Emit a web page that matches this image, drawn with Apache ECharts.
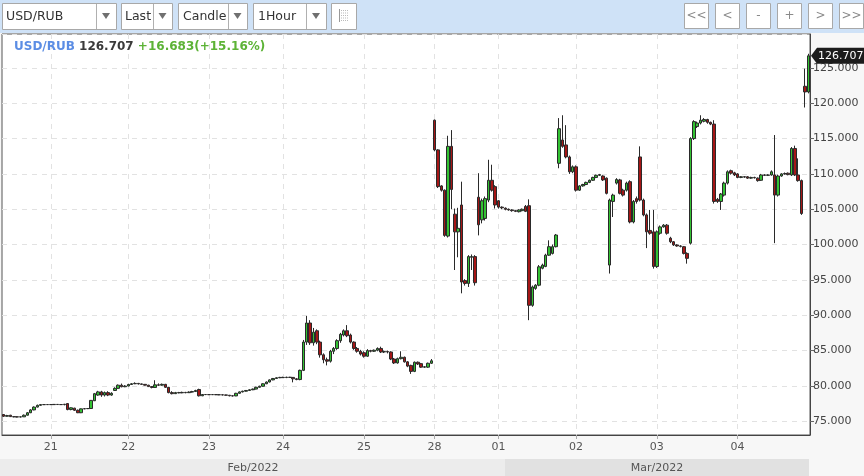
<!DOCTYPE html>
<html><head><meta charset="utf-8">
<script src="https://cdn.jsdelivr.net/npm/echarts@6/dist/echarts.min.js"></script>
<style>html,body{margin:0;padding:0;background:#f7f7f7}#c{width:864px;height:476px}</style>
</head><body><div id="c"></div>
<script>
// ---------- data ----------
const symbol = 'USD/RUB';
const changeText = '+16.683(+15.16%)';
const days = ['2022-02-18','2022-02-21','2022-02-22','2022-02-23','2022-02-24','2022-02-25','2022-02-28','2022-03-01','2022-03-02','2022-03-03','2022-03-04'];
const dayStartHour = [10,1,0,2,0,3,5,1,0,0,0];
const yTicks = [75,80,85,90,95,100,105,110,115,120,125];
const months = ['Feb/2022','Mar/2022'];
// [open, close, low, high]
const feb18 = [
[75.95,75.70,75.60,76.00],[75.70,75.80,75.65,75.90],[75.85,75.65,75.60,75.90],[75.65,75.62,75.55,75.70],
[75.62,75.60,75.55,75.68],[75.60,75.62,75.55,75.66],[75.62,75.85,75.60,75.95],[75.85,76.20,75.80,76.30],
[76.20,76.60,76.15,76.70],[76.60,77.00,76.55,77.10],[77.00,77.25,76.95,77.35],[77.25,77.35,77.20,77.42],
[77.35,77.35,77.30,77.40],[77.35,77.36,77.30,77.40]];
const feb21 = [
[77.36,77.35,77.30,77.40],[77.35,77.38,77.32,77.42],[77.38,77.36,77.32,77.42],[77.36,77.35,77.30,77.40],
[77.35,77.40,77.25,77.45],[77.50,76.65,76.55,77.55],[76.65,76.90,76.55,76.95],[76.85,76.55,76.45,76.90],
[76.55,76.20,76.15,76.65],[76.20,76.75,76.15,76.80],[76.75,76.78,76.70,76.85],[76.78,76.80,76.72,76.86],
[76.80,77.95,76.75,78.00],[77.90,78.90,77.85,79.00],[78.70,79.15,78.60,79.30],[79.15,78.70,78.45,79.30],
[78.70,79.05,78.50,79.20],[79.05,78.70,78.55,79.25],[78.70,78.95,78.60,79.10],[79.35,79.65,79.30,79.80],
[79.65,80.10,79.60,80.20],[80.10,79.88,79.80,80.33],[79.88,79.98,79.82,80.10]];
const feb22 = [
[79.98,80.20,79.95,80.30],[80.20,80.30,80.15,80.40],[80.30,80.35,80.25,80.50],[80.35,80.28,80.20,80.42],
[80.28,80.22,80.15,80.32],[80.22,80.10,80.05,80.26],[80.10,79.90,79.85,80.15],[79.90,79.78,79.65,79.95],
[79.78,80.15,79.70,80.80],[80.15,80.10,79.98,80.35],[80.10,80.22,80.02,80.33],[80.22,79.80,79.72,80.28],
[79.80,79.05,78.95,79.85],[79.05,78.90,78.80,79.25],[78.90,79.05,78.85,79.15],[79.05,79.02,78.95,79.15],
[79.02,79.08,78.96,79.18],[79.08,79.04,78.96,79.15],[79.04,79.12,79.00,79.22],[79.12,79.20,79.05,79.30],
[79.20,79.35,79.15,79.45],[79.49,78.60,78.50,79.60],[78.60,78.78,78.55,78.85],[78.78,78.77,78.70,78.84]];
const feb23 = [
[78.77,78.76,78.70,78.82],[78.76,78.77,78.71,78.82],[78.77,78.75,78.70,78.80],[78.75,78.74,78.69,78.79],
[78.74,78.72,78.66,78.78],[78.72,78.68,78.62,78.75],[78.68,78.60,78.52,78.70],[78.60,78.58,78.50,78.66],
[78.58,78.95,78.55,79.02],[78.95,79.15,78.90,79.22],[79.15,79.25,79.08,79.32],[79.25,79.35,79.20,79.42],
[79.35,79.45,79.30,79.52],[79.45,79.55,79.40,79.62],[79.55,79.80,79.50,79.88],[79.80,79.95,79.75,80.02],
[79.95,80.30,79.90,80.38],[80.30,80.55,80.25,80.62],[80.55,80.85,80.50,80.92],[80.85,81.05,80.80,81.12],
[81.05,81.15,81.00,81.22],[81.15,81.20,81.10,81.28]];
const feb24 = [
[81.20,81.18,81.10,81.30],[81.18,81.22,81.10,81.30],[81.22,81.20,81.12,81.28],[81.20,81.00,80.50,81.25],
[81.00,80.90,80.80,81.10],[80.90,82.20,80.80,82.30],[82.20,86.20,82.10,86.50],[86.20,88.90,85.80,89.90],
[88.90,86.10,85.80,89.30],[86.10,87.60,85.70,88.20],[87.80,86.20,85.90,88.00],[86.20,84.40,84.00,86.40],
[84.40,83.70,83.20,84.60],[83.70,83.50,82.90,84.00],[83.50,84.90,83.30,85.10],[84.90,85.30,84.50,85.50],
[85.30,86.40,85.10,86.60],[86.40,87.30,86.10,87.50],[87.20,87.80,87.00,88.00],[87.80,87.10,86.90,88.60],
[87.20,86.20,86.00,87.40],[86.20,85.30,85.10,86.30],[85.30,84.90,84.70,85.50],[84.90,84.50,84.30,85.10]];
const feb25 = [
[84.70,84.20,84.00,84.90],[84.20,85.00,84.10,85.20],[85.00,84.90,84.75,85.10],[84.90,85.05,84.80,85.15],
[85.05,85.30,84.90,85.45],[85.30,84.80,84.65,85.55],[84.80,84.85,84.65,85.00],[84.85,84.80,84.60,85.00],
[84.80,83.80,83.65,84.90],[83.80,83.25,83.10,83.95],[83.25,83.85,83.15,84.00],[83.85,84.05,83.75,84.90],
[84.05,83.40,83.30,84.15],[83.40,82.80,82.65,83.50],[82.90,82.05,81.70,83.00],[82.05,83.35,81.95,83.45],
[83.35,83.10,82.95,83.45],[83.15,82.65,82.55,83.25],[82.65,82.70,82.55,82.80],[82.65,83.20,82.55,83.30],
[83.20,83.55,83.10,83.80]];
const feb28 = [
[117.60,113.40,113.20,117.70],[113.40,108.20,108.00,113.50],[108.30,107.70,107.50,108.40],[107.70,101.30,101.10,107.80],
[101.20,113.90,101.00,115.40],[113.90,107.80,105.00,116.20],[104.30,101.80,96.40,105.10],[101.80,102.30,98.20,105.20],
[105.60,94.70,93.10,108.90],[94.90,94.50,94.20,95.10],[94.50,98.30,94.00,98.50],[98.20,98.30,96.40,98.60],
[98.30,94.60,94.20,98.50],[106.70,102.80,101.30,110.10],[103.50,106.20,103.00,106.50],[103.70,106.50,103.40,106.80],
[106.30,109.10,106.00,112.00],[109.10,107.70,107.50,111.30],[108.20,105.60,105.10,108.40]];
const mar01 = [
[106.20,105.30,105.10,106.30],[105.30,105.20,105.00,105.40],[105.15,105.00,104.85,105.25],[105.00,104.90,104.80,105.10],
[104.90,104.80,104.65,105.00],[104.80,104.70,104.60,104.85],[104.65,104.90,104.55,105.00],[104.80,105.00,104.70,105.10],
[105.40,104.70,104.60,105.60],[105.50,91.40,89.30,106.40],[91.40,94.00,91.20,94.20],[93.80,94.25,93.60,94.40],
[94.25,96.85,94.10,97.10],[96.65,97.10,96.50,97.30],[96.90,98.50,96.80,98.70],[98.50,99.70,98.40,100.60],
[98.75,99.70,98.60,100.00],[99.70,101.35,99.60,101.50],[111.50,116.40,110.80,117.90],[114.80,113.90,113.70,118.30],
[114.10,112.40,112.20,116.90],[112.40,110.30,110.00,112.60],[110.30,111.00,110.10,111.20]];
const mar02 = [
[111.00,107.70,107.50,111.20],[107.70,108.30,107.60,108.40],[108.30,108.50,108.20,108.60],[108.50,108.80,108.40,108.90],
[108.80,109.10,108.70,109.20],[109.10,109.50,109.00,109.60],[109.50,109.80,109.40,109.90],[109.80,109.90,109.70,110.00],
[109.70,109.15,109.00,109.80],[109.40,107.25,107.10,109.50],[97.10,106.30,95.90,106.50],[106.10,107.00,103.90,107.20],
[108.70,109.20,108.50,109.40],[109.15,107.25,107.10,109.30],[107.70,107.00,106.80,107.90],[107.70,108.70,107.50,108.90],
[108.90,103.20,103.00,109.10],[103.20,106.10,103.00,106.30],[106.50,106.10,105.80,106.80],[112.40,106.30,106.10,113.90],
[106.30,104.20,104.00,106.50],[104.20,101.80,99.50,104.40],[102.00,101.60,101.40,104.90],[101.80,96.90,96.60,104.90]];
const mar03 = [
[96.90,101.80,96.70,102.00],[101.60,102.50,101.40,102.70],[102.50,102.75,102.40,102.90],[102.75,101.60,101.40,102.90],
[100.90,100.40,100.20,101.10],[100.40,99.95,99.80,100.50],[99.95,99.80,99.70,100.05],[99.80,99.75,99.60,99.90],
[99.70,98.75,98.60,99.80],[98.75,98.05,97.30,98.90],[100.20,115.00,100.00,115.20],[115.00,117.40,114.80,117.60],
[116.70,117.20,116.50,117.40],[117.20,117.60,117.00,118.30],[117.45,117.70,117.30,117.90],[117.70,117.30,117.10,117.80],
[117.30,117.05,116.90,117.40],[117.05,106.10,105.80,117.60],[106.40,106.10,105.90,106.60],[106.10,107.15,104.90,107.30],
[107.00,108.70,106.80,108.90],[108.70,110.30,108.50,110.50],[110.45,110.10,109.90,110.60],[110.15,109.85,109.70,110.30]];
const mar04 = [
[110.00,109.50,109.40,110.10],[109.50,109.60,109.40,109.70],[109.60,109.55,109.45,109.70],[109.60,109.40,109.30,109.70],
[109.40,109.50,109.30,109.60],[109.50,109.45,109.35,109.60],[109.40,109.05,108.90,109.50],[109.10,109.85,109.00,110.00],
[109.85,109.80,109.70,109.95],[109.80,109.85,109.70,109.95],[109.85,110.30,109.75,110.50],[109.85,107.00,100.20,115.50],
[107.00,109.70,106.80,109.90],[109.70,110.00,109.60,110.10],[110.00,110.05,109.90,110.20],[110.10,109.90,109.80,110.20],
[109.85,113.60,109.70,113.80],[113.60,109.85,109.70,114.00],[109.85,109.05,108.90,112.20],[109.05,104.40,104.20,109.20],
[122.40,121.60,119.40,124.90],[121.60,126.707,121.40,127.00]];
const dayData = [feb18,feb21,feb22,feb23,feb24,feb25,feb28,mar01,mar02,mar03,mar04];

// ---------- build ----------
const categories = [], ohlc = [], dayStartIdx = new Set();
days.forEach((d, di) => {
  if (di > 0) dayStartIdx.add(categories.length); // first (partial) day has no label in the original
  dayData[di].forEach((c, k) => {
    categories.push(d + ' ' + String(dayStartHour[di] + k).padStart(2, '0') + ':00');
    ohlc.push(c);
  });
});
const isDayStart = (idx) => dayStartIdx.has(idx);
const lastClose = ohlc[ohlc.length - 1][1];
const FF = 'DejaVu Sans';

const chart = echarts.init(document.getElementById('c'));
chart.setOption({
  animation: false,
  backgroundColor: '#f7f7f7',
  textStyle: { fontFamily: FF },
  grid: { left: 2, right: 54, top: 34, bottom: 41, show: true, backgroundColor: '#ffffff', borderColor: '#555', borderWidth: 1 },
  xAxis: {
    type: 'category', data: categories, boundaryGap: true,
    axisLine: { show: true, lineStyle: { color: '#444' } },
    axisTick: { show: true, alignWithLabel: true, interval: isDayStart, length: 4, lineStyle: { color: '#aaa' } },
    axisLabel: { interval: isDayStart, formatter: v => v.slice(8, 10), color: '#555', fontSize: 11, margin: 7, fontFamily: FF },
    splitLine: { show: true, interval: isDayStart, alignWithLabel: true, lineStyle: { color: '#e2e2e2', type: [5, 5] } }
  },
  yAxis: {
    type: 'value', position: 'right', min: 73.05, max: 129.8, splitNumber: 10,
    axisLine: { show: true, lineStyle: { color: '#444' } },
    axisTick: { show: true, length: 4, lineStyle: { color: '#666' } },
    axisLabel: { color: '#444', fontSize: 11, margin: 3, fontFamily: FF, showMinLabel: false, showMaxLabel: false,
      formatter: v => yTicks.includes(Math.round(v * 1000) / 1000) ? v.toFixed(3) : '' },
    splitLine: { show: true, lineStyle: { color: '#e2e2e2', type: [5, 5] } }
  },
  series: [{
    type: 'candlestick', data: ohlc, barWidth: 3,
    itemStyle: { color: '#33c233', color0: '#a51616', borderColor: '#2a2a2a', borderColor0: '#2a2a2a', borderWidth: 1 },
    emphasis: { disabled: true }
  }]
});

// ---------- chrome (toolbar, header, tags) ----------
const g = [];
g.push({ type: 'rect', silent: true, shape: { x: 0, y: 0, width: 864, height: 33 }, style: { fill: '#cfe2f7' } });
const dropdowns = [
  { x: 2, w: 114, div: 96, tx: 6, label: symbol },
  { x: 121, w: 51, div: 153, tx: 125, label: 'Last' },
  { x: 178, w: 69, div: 228, tx: 183, label: 'Candle' },
  { x: 253, w: 73, div: 306, tx: 258, label: '1Hour' }
];
dropdowns.forEach(d => {
  g.push({ type: 'rect', shape: { x: d.x + 0.5, y: 3.5, width: d.w, height: 26 }, style: { fill: '#fff', stroke: '#a8a8a8', lineWidth: 1 } });
  g.push({ type: 'line', shape: { x1: d.div + 0.5, y1: 4, x2: d.div + 0.5, y2: 29 }, style: { stroke: '#b0b0b0', lineWidth: 1 } });
  g.push({ type: 'text', x: d.tx, y: 16.5, style: { text: d.label, font: '12.5px ' + FF, fill: '#333', verticalAlign: 'middle' } });
  const cx = (d.div + d.x + d.w) / 2;
  g.push({ type: 'polygon', shape: { points: [[cx - 4, 13], [cx + 4, 13], [cx, 19]] }, style: { fill: '#707070' } });
});
// icon button
g.push({ type: 'rect', shape: { x: 331.5, y: 3.5, width: 25, height: 26 }, style: { fill: '#fff', stroke: '#a8a8a8', lineWidth: 1 } });
g.push({ type: 'line', shape: { x1: 339.5, y1: 9, x2: 339.5, y2: 22 }, style: { stroke: '#999', lineWidth: 1 } });
[10, 12.5, 15, 17.5, 20].forEach(yy => {
  g.push({ type: 'line', shape: { x1: 341, y1: yy + 0.5, x2: 349, y2: yy + 0.5 }, style: { stroke: '#bbb', lineWidth: 1, lineDash: [1, 1] } });
});
// nav buttons
const navLabels = ['<<', '<', '-', '+', '>', '>>'];
const navX = [684, 715, 746, 777, 808, 839];
navLabels.forEach((t, i) => {
  g.push({ type: 'rect', shape: { x: navX[i] + 0.5, y: 3.5, width: 24, height: 25 }, style: { fill: '#fff', stroke: '#a8a8a8', lineWidth: 1 } });
  g.push({ type: 'text', x: navX[i] + 12.5, y: 16, style: { text: t, font: '12px ' + FF, fill: '#8a8a8a', align: 'center', verticalAlign: 'middle' } });
});
// header
g.push({ type: 'text', x: 14, y: 47, z: 10, style: {
  text: '{a|' + symbol + '} {b|' + lastClose.toFixed(3) + '} {c|' + changeText + '}',
  font: 'bold 12px ' + FF, verticalAlign: 'middle',
  rich: {
    a: { fill: '#5b8de4', fontWeight: 'bold', fontSize: 12, fontFamily: FF },
    b: { fill: '#3a3a3a', fontWeight: 'bold', fontSize: 12, fontFamily: FF },
    c: { fill: '#5cb336', fontWeight: 'bold', fontSize: 12, fontFamily: FF }
  }
} });
// month bands
g.push({ type: 'rect', shape: { x: 0, y: 459, width: 505, height: 17 }, style: { fill: '#ececec' } });
g.push({ type: 'rect', shape: { x: 505, y: 459, width: 304, height: 17 }, style: { fill: '#e1e1e1' } });
g.push({ type: 'text', x: 253, y: 468, style: { text: months[0], font: '11px ' + FF, fill: '#555', align: 'center', verticalAlign: 'middle' } });
g.push({ type: 'text', x: 657, y: 468, style: { text: months[1], font: '11px ' + FF, fill: '#555', align: 'center', verticalAlign: 'middle' } });
// last price tag
const yc = chart.convertToPixel({ yAxisIndex: 0 }, lastClose);
g.push({ type: 'polygon', z: 20, shape: { points: [[811, yc], [817, yc - 8], [864, yc - 8], [864, yc + 8], [817, yc + 8]] }, style: { fill: '#1c1c1c' } });
g.push({ type: 'text', z: 21, x: 818, y: yc + 0.5, style: { text: lastClose.toFixed(3), font: '11px ' + FF, fill: '#fff', verticalAlign: 'middle' } });

chart.setOption({ graphic: g });
</script>
</body></html>
